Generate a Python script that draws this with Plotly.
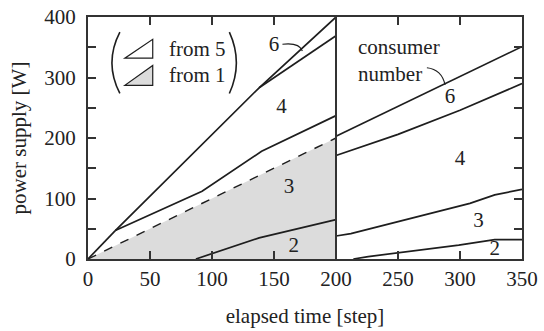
import plotly.graph_objects as go

# ---------------- data ----------------
# left panel (steps 0-200)
shared_x = [0, 22]
shared_y = [0, 47]
line6_left_x = [22, 138, 200]
line6_left_y = [47, 283, 400]
line4_split_x = [138, 200]
line4_split_y = [283, 369]
line4_left_x = [22, 92, 140, 200]
line4_left_y = [47, 112, 178, 237]
dashed_x = [0, 200]
dashed_y = [0, 200]
line2_left_x = [87, 138, 200]
line2_left_y = [0, 35, 65]

# right panel (steps 200-350)
line6_right_x = [200, 350]
line6_right_y = [203, 351]
line4_right_x = [200, 250, 300, 350]
line4_right_y = [171, 206, 246, 290]
line3_right_x = [200, 212, 308, 328, 350]
line3_right_y = [38, 42, 92, 106, 115]
line2_right_x = [214, 226, 299, 328, 350]
line2_right_y = [0, 4, 23, 32, 32]

divider_x = [200, 200]
divider_y = [0, 400]

x_ticks = [0, 50, 100, 150, 200, 250, 300, 350]
y_ticks = [0, 50, 100, 150, 200, 250, 300, 350, 400]
y_ticktext = ["0", "", "100", "", "200", "", "300", "", "400"]

region_labels = ["6", "4", "3", "2", "6", "4", "3", "2"]
region_x = [150, 156, 162, 166, 292, 300, 315, 328]
region_y = [352, 250, 117, 20, 267, 164, 62, 15]

LINE_COLOR = "#1e1e1e"
FILL_COLOR = "#dcdcdc"
TEXT_COLOR = "#222222"
FONT = "Liberation Serif"

fig = go.Figure()

# shaded area under dashed line
fig.add_trace(go.Scatter(x=dashed_x, y=dashed_y, mode="lines", fill="tozeroy",
                         fillcolor=FILL_COLOR,
                         line=dict(color=LINE_COLOR, width=1.4, dash="dash")))

def add_line(xs, ys):
    fig.add_trace(go.Scatter(x=xs, y=ys, mode="lines",
                             line=dict(color=LINE_COLOR, width=1.7)))

for xs, ys in [(shared_x, shared_y), (line6_left_x, line6_left_y),
               (line4_split_x, line4_split_y), (line4_left_x, line4_left_y),
               (line2_left_x, line2_left_y), (line6_right_x, line6_right_y),
               (line4_right_x, line4_right_y), (line3_right_x, line3_right_y),
               (line2_right_x, line2_right_y)]:
    add_line(xs, ys)

fig.add_trace(go.Scatter(x=divider_x, y=divider_y, mode="lines",
                         line=dict(color="#333333", width=2)))

# region numbers
fig.add_trace(go.Scatter(x=region_x, y=region_y, mode="text", text=region_labels,
                         textfont=dict(family=FONT, size=21, color=TEXT_COLOR)))

annotations = [
    dict(x=216, y=328, text="consumer<br>number", showarrow=False, xanchor="left",
         yanchor="middle", align="left",
         font=dict(family=FONT, size=21, color=TEXT_COLOR)),
    dict(x=63.5, y=346.6, text="from 5", showarrow=False, xanchor="left", yanchor="middle",
         font=dict(family=FONT, size=21, color=TEXT_COLOR)),
    dict(x=63.5, y=303.5, text="from 1", showarrow=False, xanchor="left", yanchor="middle",
         font=dict(family=FONT, size=21, color=TEXT_COLOR)),
]

shapes = [
    # legend triangles
    dict(type="path", xref="x", yref="y", path="M 29.7,332 L 52.2,332 L 52.2,363.2 Z",
         line=dict(color=LINE_COLOR, width=1.2), fillcolor="white"),
    dict(type="path", xref="x", yref="y", path="M 29.7,287 L 52.2,287 L 52.2,320 Z",
         line=dict(color=LINE_COLOR, width=1.2), fillcolor=FILL_COLOR),
    # parentheses
    dict(type="path", xref="x", yref="y", path="M 25.7,375 Q 12.9,324.3 25.7,273.6",
         line=dict(color=LINE_COLOR, width=1.6)),
    dict(type="path", xref="x", yref="y", path="M 114,375 Q 125.3,324.3 114,273.6",
         line=dict(color=LINE_COLOR, width=1.6)),
    # leader curves
    dict(type="path", xref="x", yref="y", path="M 156.8,354.9 Q 170.3,358.2 172.9,343.8",
         line=dict(color=LINE_COLOR, width=1.1)),
    dict(type="path", xref="x", yref="y", path="M 273.3,316.2 Q 285.3,313.4 288,287.7",
         line=dict(color=LINE_COLOR, width=1.1)),
]

axis_common = dict(showline=True, linecolor="#333333", linewidth=2, mirror="ticks",
                   ticks="inside", ticklen=8, tickwidth=1.5, tickcolor="#333333",
                   showgrid=False, zeroline=False, automargin=False,
                   tickfont=dict(family=FONT, size=21, color=TEXT_COLOR))

fig.update_layout(
    width=544, height=331,
    margin=dict(l=88, r=22, t=17, b=72),
    paper_bgcolor="white", plot_bgcolor="white",
    showlegend=False,
    font=dict(family=FONT),
    annotations=annotations, shapes=shapes,
    xaxis=dict(range=[0, 350], tickvals=x_ticks, ticktext=[str(v) for v in x_ticks],
               title=dict(text="elapsed time [step]", standoff=18,
                          font=dict(family=FONT, size=21, color=TEXT_COLOR)),
               **axis_common),
    yaxis=dict(range=[0, 400], tickvals=y_ticks, ticktext=y_ticktext,
               ticklabelstandoff=6,
               title=dict(text="power supply [W]", standoff=12,
                          font=dict(family=FONT, size=21, color=TEXT_COLOR)),
               **axis_common),
)

fig.write_html("out.html", post_script="document.body.style.margin='0';",
               config={"displayModeBar": False})
